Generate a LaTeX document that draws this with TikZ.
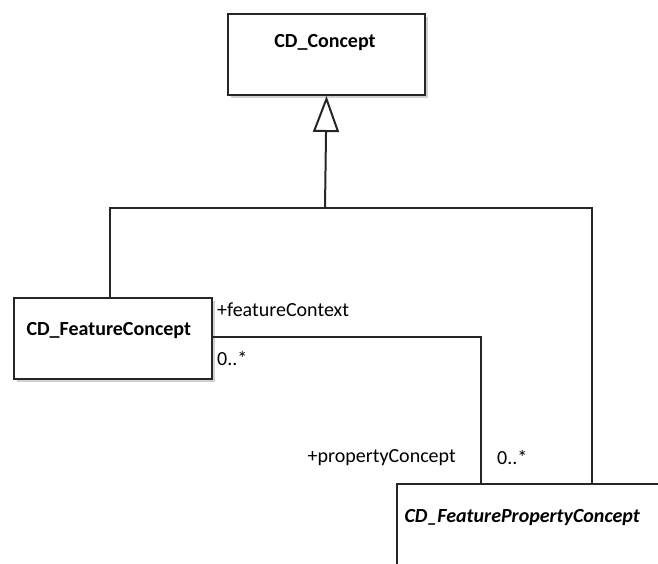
\documentclass[tikz,border=0pt]{standalone}
\usepackage{fontspec}
\setmainfont{Carlito}
\usetikzlibrary{arrows.meta,shadows}
\begin{document}
\begin{tikzpicture}[x=1pt,y=-1pt,
  cls/.style={draw=black!85, line width=2pt, fill=white, anchor=north west,
    inner sep=0pt,
    drop shadow={shadow xshift=3pt, shadow yshift=-3pt, fill=black!18, opacity=1}},
  ttl/.style={font=\fontsize{20}{24}\selectfont\bfseries},
  wire/.style={draw=black!85, line width=2pt},
  gen/.style={wire, -{Triangle[open, length=36pt, width=26pt, line width=2pt]}},
  role/.style={font=\fontsize{20}{24}\selectfont, anchor=west, inner sep=0pt}]
\useasboundingbox (0,0) rectangle (658,563);
\begin{scope}
\clip (0,0) rectangle (658,563);
% classes
\node[cls, minimum width=197pt, minimum height=81pt] (concept) at (227,13) {};
\node[ttl] (conceptname) at (325,43) {CD\_Concept};
\node[cls, minimum width=198pt, minimum height=81pt] (feature) at (13,297) {};
\node[ttl, anchor=west] (featurename) at (23,331) {CD\_FeatureConcept};
\node[cls, minimum width=290pt, minimum height=110pt] (prop) at (396,483) {};
\node[ttl, font=\fontsize{20}{24}\selectfont\bfseries\itshape, anchor=west] (propname) at (401,518) {CD\_FeaturePropertyConcept};
\end{scope}
% generalization tree
\coordinate (join) at (325,208);
\draw[gen] (join) -- (concept.south);
\draw[wire] (feature.north -| 110,0) -- (110,208) -- (592,208) -- (prop.north -| 592,0);
% association
\draw[wire] (feature.east |- 0,337) -- (481,337) -- (prop.north -| 481,0);
% role labels and multiplicities
\node[role] (fc) at (217,310) {+featureContext};
\node[role] (m1) at (217,358) {0..*};
\node[role, anchor=east] (pc) at (456,458) {+propertyConcept};
\node[role] (m2) at (497,457) {0..*};
\end{tikzpicture}
\end{document}
